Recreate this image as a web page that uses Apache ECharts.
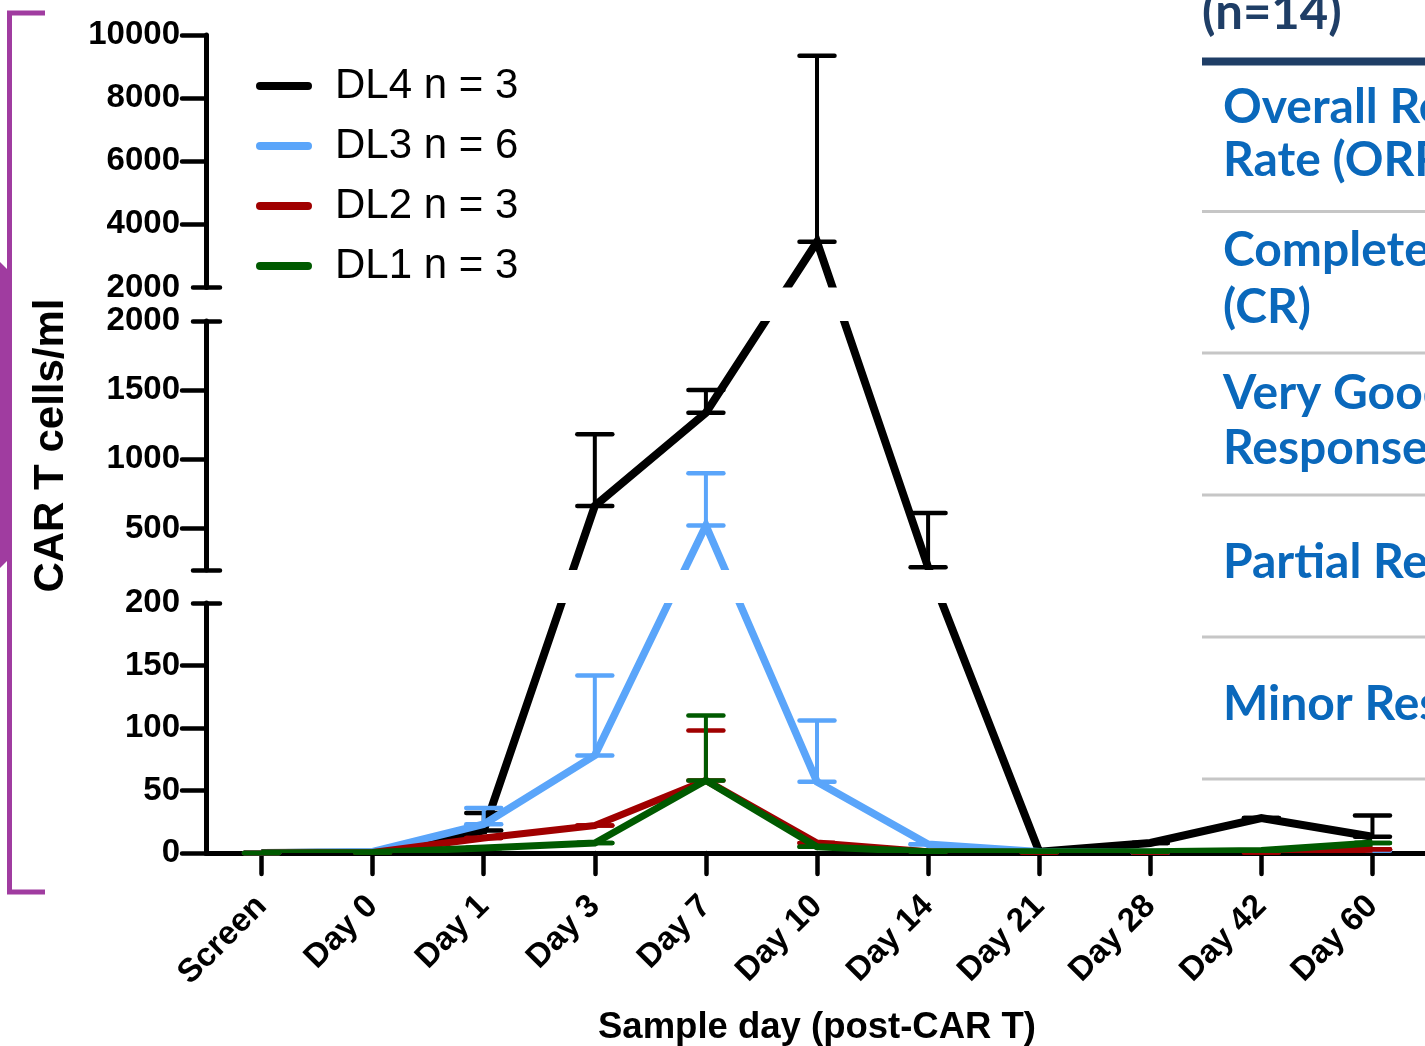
<!DOCTYPE html>
<html>
<head>
<meta charset="utf-8">
<title>CAR T cells/ml by sample day</title>
<script src="https://cdn.jsdelivr.net/npm/echarts@6/dist/echarts.min.js"></script>
<style>
  html, body { margin: 0; padding: 0; background: #fff; }
  #chart { width: 1425px; height: 1046px; }
</style>
</head>
<body>
<div id="chart"></div>
<script>
// sample days on the x axis
var days = ['Screen', 'Day 0', 'Day 1', 'Day 3', 'Day 7', 'Day 10', 'Day 14', 'Day 21', 'Day 28', 'Day 42', 'Day 60'];

// mean CAR T cells/ml per dose level
var dl4 = [0, 0.5, 18, 663, 1337, 3450, 220, 1, 8, 28, 13];
var dl3 = [0, 1, 23, 78, 522, 57, 7, 1, 0.5, 1, 2];
var dl2 = [0, 0.5, 12, 22, 58, 8, 1, 0.5, 0.5, 0.5, 3];
var dl1 = [0, 0.5, 4, 8, 58, 5, 1, 1, 1, 2, 8];

// upper error bar (SEM) above the mean
var dl4Err = [0, 0, 14, 518, 164, 5890, 392, 0, 0, 0, 17];
var dl3Err = [0, 0, 13, 64, 377, 49, 0, 0, 0, 0, 0];
var dl2Err = [0, 0, 0, 0, 40, 0, 0, 0, 0, 0, 0];
var dl1Err = [0, 0, 0, 0, 52, 0, 0, 0, 0, 0, 0];

// broken y axis: three pieces, bottom to top
var yRanges = [[0, 200], [200, 2000], [2000, 10000]];
var yLabels = [[0, 50, 100, 150, 200], [500, 1000, 1500, 2000], [2000, 4000, 6000, 8000, 10000]];
var yTicks = [[0, 50, 100, 150], [500, 1000, 1500], [4000, 6000, 8000, 10000]];
var yBreakTicks = [[200], [200, 2000], [2000]];

var dlNames = ['DL4 n = 3', 'DL3 n = 6', 'DL2 n = 3', 'DL1 n = 3'];
var dlMeans = [dl4, dl3, dl2, dl1];
var dlErrs = [dl4Err, dl3Err, dl2Err, dl1Err];
var dlColors = ['#000000', '#5aa5fa', '#a00000', '#005a00'];
var dlWidths = [8, 7.5, 7, 7];

var font = 'Liberation Sans, Arial, sans-serif';
var gridLeft = 206, gridWidth = 1222;
var gridTops = [603, 321, 35];
var gridHeights = [250, 249, 252.5];

var chart = echarts.init(document.getElementById('chart'));

var grids = [], xAxes = [], yAxes = [], seriesList = [];

yRanges.forEach(function (r, i) {
  grids.push({ left: gridLeft, width: gridWidth, top: gridTops[i], height: gridHeights[i], outerBoundsMode: 'none' });
  xAxes.push({
    type: 'category', gridIndex: i, data: days, boundaryGap: true, show: i === 0,
    axisLine: { show: true, onZero: false, lineStyle: { color: '#000', width: 5 } },
    axisTick: { show: true, alignWithLabel: true, length: 21, lineStyle: { color: '#000', width: 4.5, cap: 'round' } },
    axisLabel: { show: true, interval: 0, rotate: 45, margin: 48, color: '#000', fontFamily: font, fontWeight: 'bold', fontSize: 33 },
    name: i === 0 ? 'Sample day (post-CAR T)' : '',
    nameLocation: 'middle', nameGap: 156,
    nameTextStyle: { color: '#000', fontFamily: font, fontWeight: 'bold', fontSize: 36.5 }
  });
  yAxes.push({
    type: 'value', gridIndex: i, min: r[0], max: r[1],
    axisLine: { show: true, onZero: false, lineStyle: { color: '#000', width: 5, cap: 'round' } },
    axisTick: { show: true, length: 24, customValues: yTicks[i], lineStyle: { color: '#000', width: 4.5, cap: 'round' } },
    axisLabel: {
      show: true, customValues: yLabels[i], margin: 26, color: '#000', fontFamily: font, fontWeight: 'bold', fontSize: 33,
      formatter: function (v) { return String(v); }
    },
    splitLine: { show: false },
    name: i === 1 ? 'CAR T cells/ml' : '',
    nameLocation: 'middle', nameRotate: 90, nameGap: 134,
    nameTextStyle: { color: '#000', fontFamily: font, fontWeight: 'bold', fontSize: 42 }
  });
});

// break marks crossing the axis at the ends of each piece (yAxis 3..5)
yRanges.forEach(function (r, i) {
  yAxes.push({
    type: 'value', gridIndex: i, min: r[0], max: r[1], position: 'left', offset: -14,
    axisLine: { show: false },
    axisTick: { show: true, length: 27, customValues: yBreakTicks[i], lineStyle: { color: '#000', width: 4.5, cap: 'round' } },
    axisLabel: { show: false },
    splitLine: { show: false }
  });
});

// which piece of the broken axis a value belongs to
function pieceOf(v) {
  for (var k = 0; k < yRanges.length; k++) {
    if (v <= yRanges[k][1]) return k;
  }
  return yRanges.length - 1;
}

// one straight polyline across all pieces (as in the original), clipped to each grid
function meanLine(d) {
  return function (params, api) {
    if (params.dataIndex !== 0) return null;
    var pts = dlMeans[d].map(function (v, j) {
      return chart.convertToPixel({ gridIndex: pieceOf(v) }, [j, v]);
    });
    return {
      type: 'polyline',
      shape: { points: pts },
      style: { stroke: dlColors[d], lineWidth: dlWidths[d], fill: null, lineJoin: 'miter' }
    };
  };
}

function errorBars(color) {
  return function (params, api) {
    var p0 = api.coord([api.value(0), api.value(1)]);
    var p1 = api.coord([api.value(0), api.value(2)]);
    var hw = 17.5;
    var st = { stroke: color, lineWidth: 4.5, lineCap: 'round' };
    return {
      type: 'group',
      children: [
        { type: 'line', shape: { x1: p0[0], y1: p0[1], x2: p1[0], y2: p1[1] }, style: { stroke: color, lineWidth: 4 } },
        { type: 'line', shape: { x1: p0[0] - hw, y1: p0[1], x2: p0[0] + hw, y2: p0[1] }, style: st },
        { type: 'line', shape: { x1: p1[0] - hw, y1: p1[1], x2: p1[0] + hw, y2: p1[1] }, style: st }
      ]
    };
  };
}

dlNames.forEach(function (name, d) {
  yRanges.forEach(function (r, i) {
    seriesList.push({
      type: 'custom', name: name, xAxisIndex: i, yAxisIndex: i, clip: true, silent: true,
      data: dlMeans[d].map(function (v, j) { return [j, v]; }),
      itemStyle: { color: dlColors[d] },
      renderItem: meanLine(d)
    });
  });
  yRanges.forEach(function (r, i) {
    var pts = [];
    dlMeans[d].forEach(function (m, j) {
      if (m >= r[0] && m <= r[1]) pts.push([j, m, Math.min(m + dlErrs[d][j], r[1])]);
    });
    seriesList.push({
      type: 'custom', xAxisIndex: i, yAxisIndex: i, data: pts, silent: true,
      itemStyle: { color: dlColors[d] },
      renderItem: errorBars(dlColors[d])
    });
  });
});

var purple = '#a03ca0';
var navy = '#1f3e66';
var tableBlue = '#0a68bb';
var tableFont = 'bold 48px Lato, sans-serif';

function tableText(text, y, color) {
  return { type: 'text', style: { x: 1223, y: y, text: text, font: tableFont, fill: color || tableBlue, verticalAlign: 'middle' } };
}
function hLine(y, color, w) {
  return { type: 'line', shape: { x1: 1202, y1: y, x2: 1430, y2: y }, style: { stroke: color, lineWidth: w } };
}

var graphics = [
  { type: 'polyline', shape: { points: [[45, 13], [9.5, 13], [9.5, 892], [45, 892]] }, style: { stroke: purple, lineWidth: 5, fill: null } },
  { type: 'polygon', shape: { points: [[0, 262], [12, 274], [12, 556], [0, 568]] }, style: { fill: purple } },
  hLine(61.5, navy, 8),
  hLine(211.5, '#c6c6c6', 3),
  hLine(353, '#c6c6c6', 3),
  hLine(495, '#c6c6c6', 3),
  hLine(637, '#c6c6c6', 3),
  hLine(779, '#c6c6c6', 3),
  { type: 'text', style: { x: 1202, y: 13, text: '(n=14)', font: 'bold 49px Lato, sans-serif', fill: navy, verticalAlign: 'middle' } },
  tableText('Overall Response', 108),
  tableText('Rate (ORR)', 161),
  tableText('Complete Response', 251),
  tableText('(CR)', 308),
  tableText('Very Good Partial', 394),
  tableText('Response (VGPR)', 449),
  tableText('Partial Response (PR)', 563),
  tableText('Minor Response (MR)', 705)
];

chart.setOption({
  backgroundColor: '#fff',
  animation: false,
  grid: grids,
  xAxis: xAxes,
  yAxis: yAxes,
  legend: {
    data: dlNames, orient: 'vertical', left: 251, top: 51, itemGap: 0,
    itemWidth: 56, itemHeight: 8,
    icon: 'path://M4,0 L52,0 A4,4 0 0 1 52,8 L4,8 A4,4 0 0 1 4,0 Z',
    itemStyle: { borderWidth: 0 },
    textStyle: { color: '#000', fontFamily: font, fontSize: 42, lineHeight: 60, padding: [0, 0, 0, 18] },
    selectedMode: false
  },
  tooltip: { show: false },
  series: seriesList,
  graphic: graphics
});
</script>
</body>
</html>
